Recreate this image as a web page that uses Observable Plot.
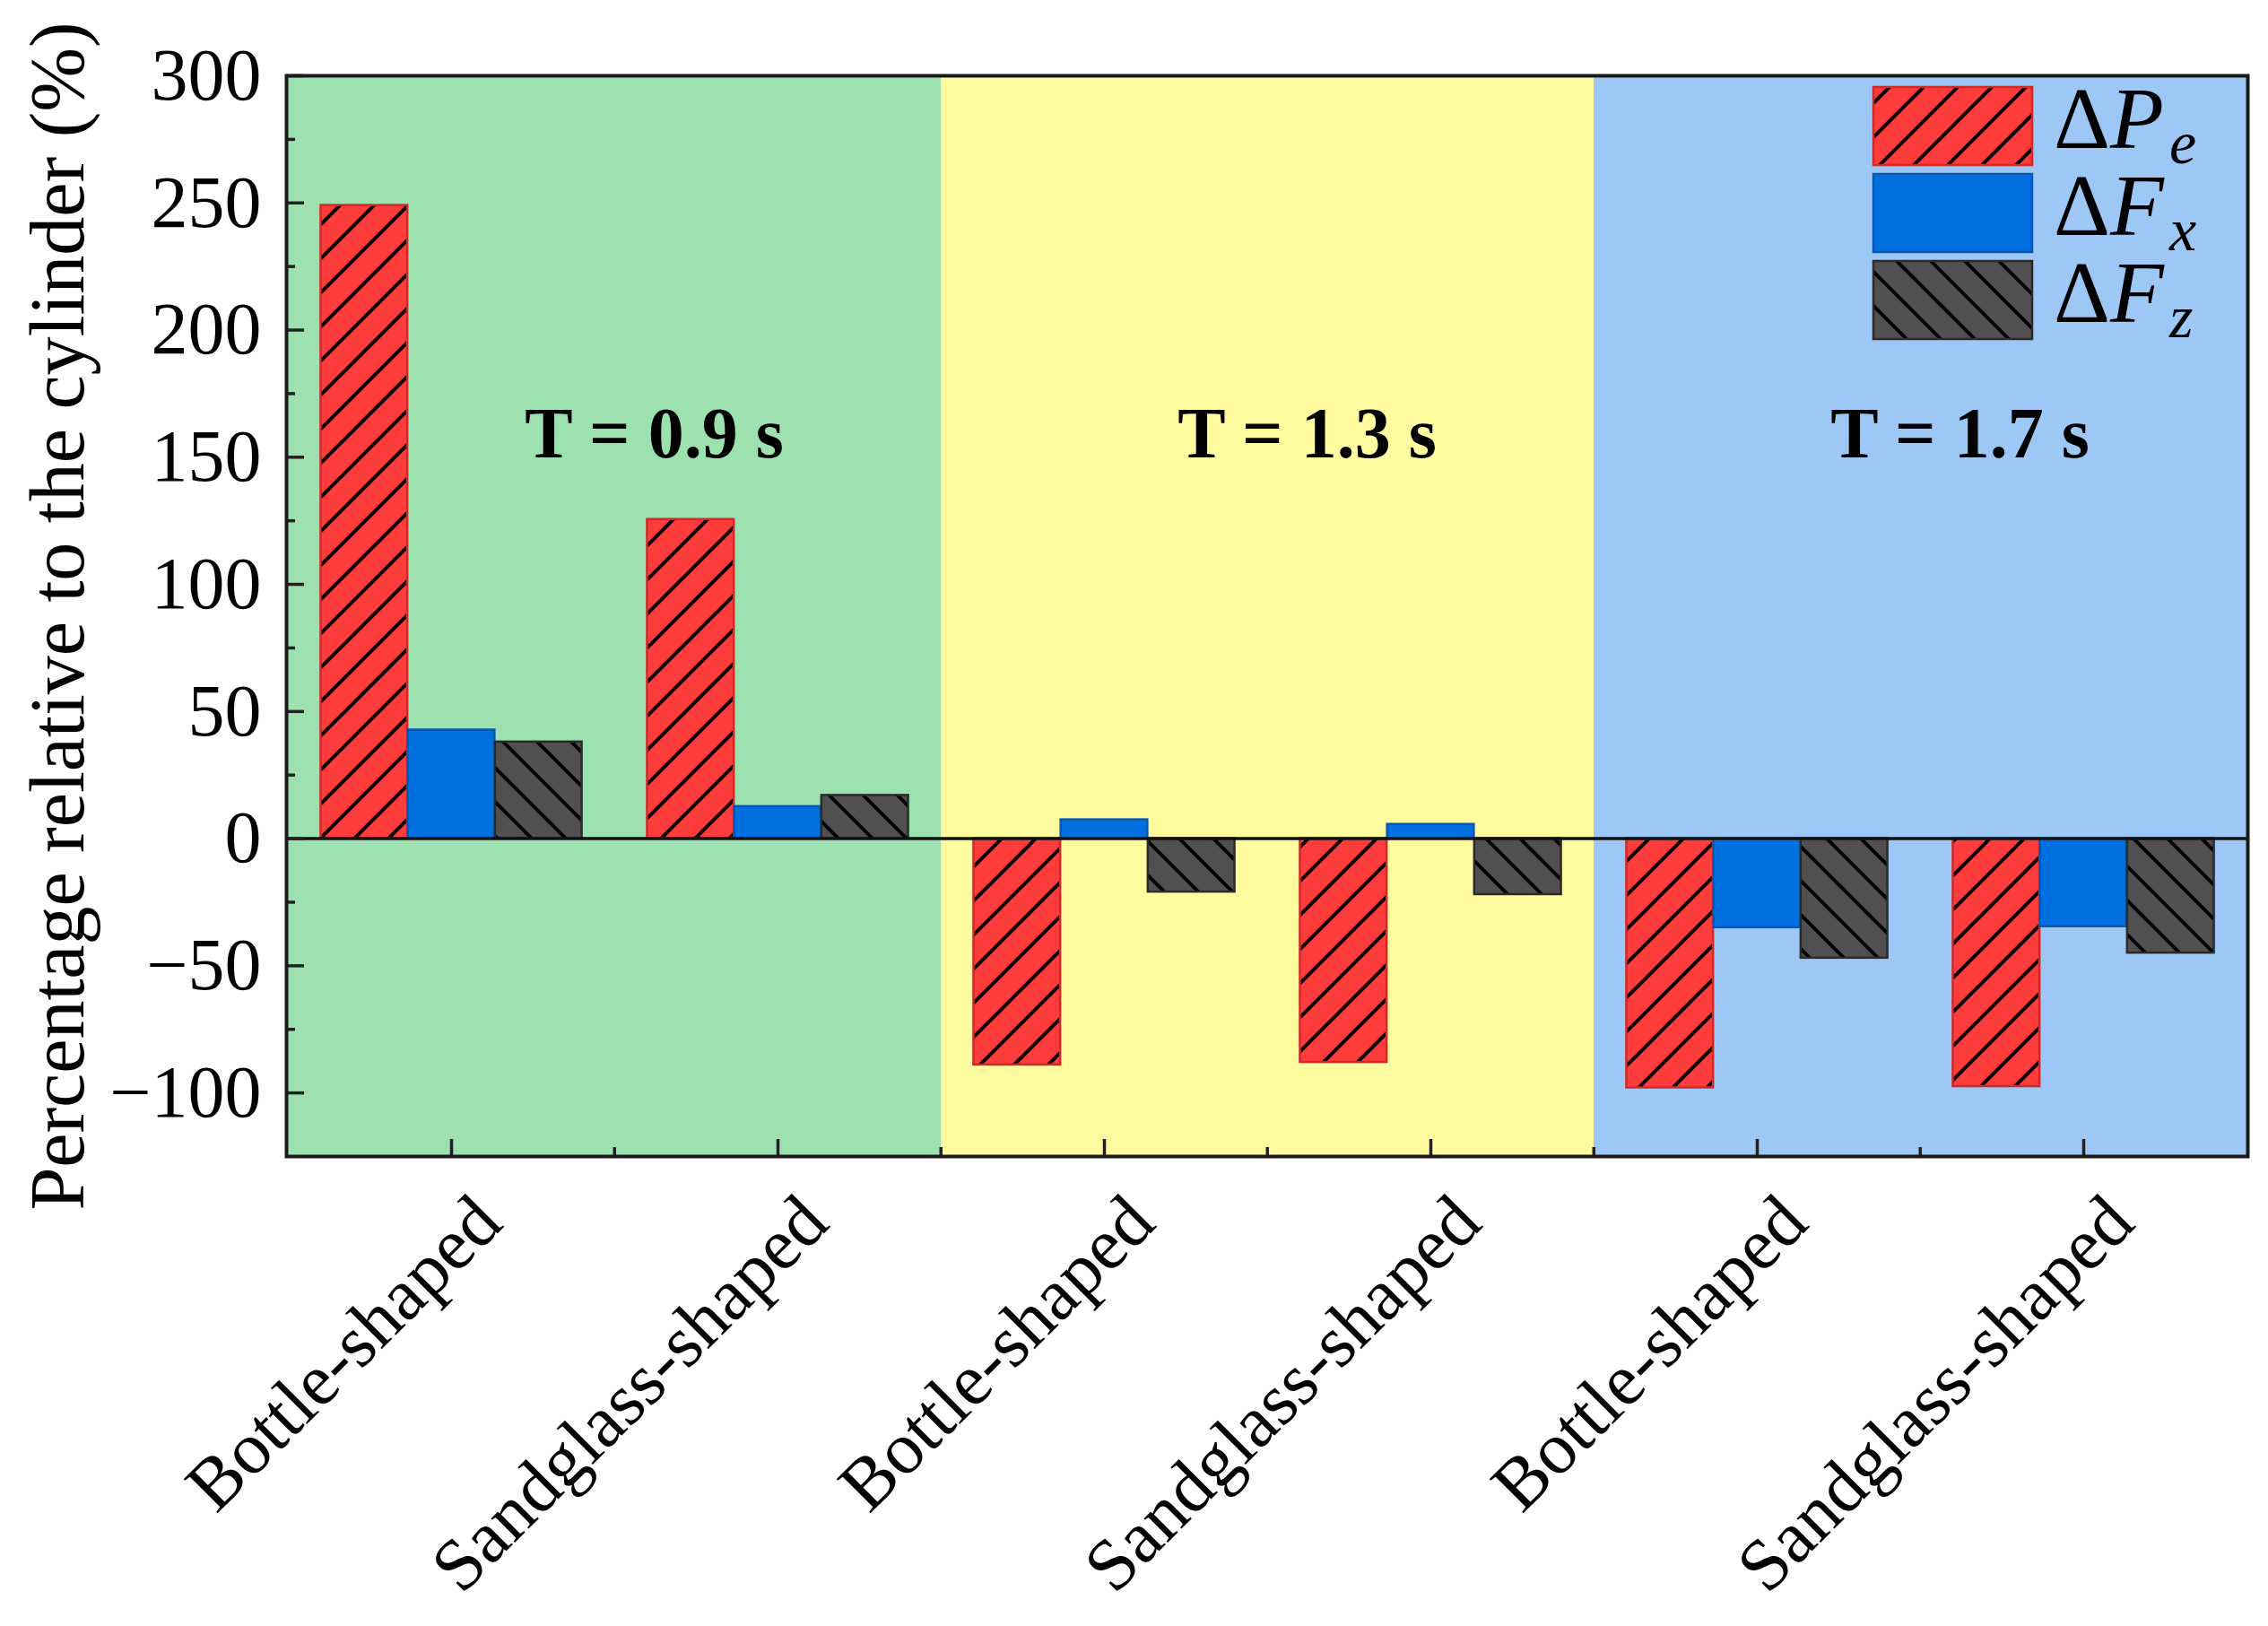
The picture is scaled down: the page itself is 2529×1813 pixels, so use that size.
<!DOCTYPE html>
<html><head><meta charset="utf-8">
<script src="https://cdn.jsdelivr.net/npm/d3@7"></script>
<script src="https://cdn.jsdelivr.net/npm/@observablehq/plot@0.6"></script>
<style>
body{margin:0;background:#fff}
#chart{position:relative;width:2529px;height:1813px}
</style>
</head><body><div id="chart"></div>
<script>
// ---- data ----
const periods = ["T = 0.9 s", "T = 1.3 s", "T = 1.7 s"];
const shapes = ["Bottle-shaped", "Sandglass-shaped"];
const series = ["Pe", "Fx", "Fz"];
const seriesMain = ["P", "F", "F"];
const seriesSub = ["e", "x", "z"];
// values in order: 0.9 Bottle, 0.9 Sandglass, 1.3 Bottle, 1.3 Sandglass, 1.7 Bottle, 1.7 Sandglass
const dPe = [249, 125.5, -89, -88, -98, -97.5];
const dFx = [42.7, 12.6, 7.4, 5.6, -35, -34.6];
const dFz = [38, 17, -21, -22, -47, -45];
const yTicks = [300, 250, 200, 150, 100, 50, 0, -50, -100];
const yMinorTicks = [275, 225, 175, 125, 75, 25, -25, -75];
const yDomain = [-125, 300];
const regionColors = ["#9ce1af", "#fffc9f", "#9dc7f5"];
const fills = ["url(#hatchRed)", "#0070e0", "url(#hatchGray)"];
const strokes = ["#cf2a2a", "#0a57b3", "#2a2a2a"];

// ---- tables ----
const cats = periods.flatMap((p, pi) => shapes.map(s => ({key: p + "|" + s, period: p, pi, shape: s})));
const keys = cats.map(d => d.key);
const values = [dPe, dFx, dFz];
const rows = series.flatMap((s, j) => cats.map((c, i) => ({key: c.key, series: s, j, value: values[j][i]})));

const W = 2529, H = 1813, ML = 319, MR = 23, MT = 84, MB = 524;
const bw = (W - ML - MR) / keys.length, gw = 0.8 * bw, w = gw / 3;
const fmt = d => String(d).replace("-", "\u2212");
const font = "Liberation Serif, Times New Roman, serif";

const chart = Plot.plot({
  width: W, height: H,
  marginLeft: ML, marginRight: MR, marginTop: MT, marginBottom: MB,
  style: {fontFamily: font, fontSize: "82px", color: "#000", background: "#fff"},
  x: {type: "band", domain: keys, padding: 0, axis: null},
  y: {domain: yDomain, nice: false, axis: null},
  color: {type: "identity"},
  marks: [
    Plot.barY(cats, {x: "key", y1: yDomain[0], y2: yDomain[1], fill: d => regionColors[d.pi], inset: 0, shapeRendering: "crispEdges"}),
    ...series.map((s, j) => Plot.barY(rows.filter(r => r.j === j), {
      x: "key", y1: 0, y2: "value",
      fill: fills[j], stroke: strokes[j], strokeWidth: 2.5,
      insetLeft: (bw - gw) / 2 + j * w,
      insetRight: bw - (bw - gw) / 2 - (j + 1) * w
    })),
    Plot.ruleY([0], {stroke: "#111", strokeWidth: 3.5}),
    Plot.text(periods.map((p, pi) => ({key: keys[pi * 2], label: p})), {
      x: "key", text: "label", frameAnchor: "top", dy: 400, dx: 0.62 * bw,
      fontWeight: "bold", fontSize: 80, lineAnchor: "middle"
    }),
    Plot.text(cats, {x: "key", text: "shape", frameAnchor: "bottom", rotate: -45,
      textAnchor: "end", lineAnchor: "middle", dx: 41, dy: 59, fontSize: 82}),
    Plot.text(["Percentage relative to the cylinder (%)"], {text: d => d, frameAnchor: "left", rotate: -90,
      dx: -254, fontSize: 86, textAnchor: "middle", lineAnchor: "middle"}),
    Plot.axisY({ticks: yTicks, tickSize: -20, tickPadding: 48, tickFormat: fmt, fontSize: 82, strokeWidth: 3.5, stroke: "#222", label: null}),
    Plot.axisY({ticks: yMinorTicks, tickSize: -10, tickFormat: () => "", strokeWidth: 3.5, stroke: "#222", label: null}),
    Plot.axisX({ticks: keys, tickSize: -19, tickFormat: () => "", strokeWidth: 3.5, stroke: "#222", label: null}),
    Plot.axisX({ticks: keys.slice(1), tickSize: -10, dx: -bw / 2, tickFormat: () => "", strokeWidth: 3.5, stroke: "#222", label: null}),
    Plot.frame({stroke: "#1a1a1a", strokeWidth: 4})
  ]
});

document.getElementById("chart").appendChild(chart);
const svg = d3.select(chart);
const defs = svg.insert("defs", ":first-child");
function hatch(id, bg, d) {
  const p = defs.append("pattern").attr("id", id).attr("patternUnits", "userSpaceOnUse")
    .attr("width", 38).attr("height", 38);
  p.append("rect").attr("width", 38).attr("height", 38).attr("fill", bg);
  p.append("path").attr("d", d).attr("stroke", "#000").attr("stroke-width", 4).attr("fill", "none");
}
hatch("hatchRed", "#ff3c3c", "M-9.5,9.5L9.5,-9.5M0,38L38,0M28.5,47.5L47.5,28.5");
hatch("hatchGray", "#505050", "M-9.5,28.5L9.5,47.5M0,0L38,38M28.5,-9.5L47.5,9.5");

// legend (inside the plot, top-right)
const lg = svg.append("g").attr("font-family", font).attr("text-anchor", "start");
series.forEach((s, i) => {
  const y0 = 97 + 97 * i;
  lg.append("rect").attr("x", 2089).attr("y", y0).attr("width", 177).attr("height", 87)
    .attr("fill", fills[i]).attr("stroke", strokes[i]).attr("stroke-width", 2.5);
  const t = lg.append("text").attr("x", 2290).attr("y", y0 + 68).attr("font-size", 98)
    .attr("text-anchor", "start").attr("fill", "#000");
  t.append("tspan").text("\u0394");
  t.append("tspan").attr("font-style", "italic").text(seriesMain[i]);
  t.append("tspan").attr("font-style", "italic").attr("font-size", 68).attr("dx", 6).attr("dy", 17).text(seriesSub[i]);
});
</script>
</body></html>
